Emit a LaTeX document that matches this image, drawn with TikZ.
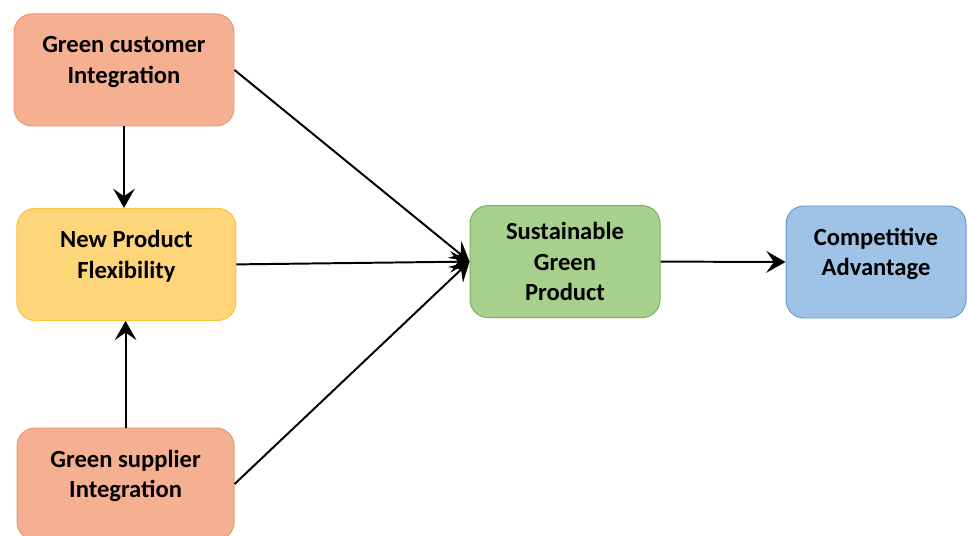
\documentclass[tikz,border=0pt]{standalone}
\usepackage{fontspec}
\setmainfont{Carlito}
\usetikzlibrary{arrows.meta, positioning}
\definecolor{salem}{RGB}{245,176,146}
\definecolor{salemtepi}{RGB}{232,150,112}
\definecolor{kuning}{RGB}{255,213,122}
\definecolor{kuningtepi}{RGB}{250,196,60}
\definecolor{hijau}{RGB}{168,208,141}
\definecolor{hijautepi}{RGB}{120,176,88}
\definecolor{biru}{RGB}{158,195,231}
\definecolor{birutepi}{RGB}{100,155,210}

\begin{document}
\begin{tikzpicture}[font=\bfseries\fontsize{17.5}{21.5}\selectfont,
        box/.style={draw, line width=0.7pt, rounded corners=0.45cm, minimum height=2.8cm,
                    align=center, text=black},
        twoline/.style={text depth=0.5cm},
        panah/.style={-{Stealth[length=4.8mm, width=5.4mm, inset=1.9mm]}, line width=1.4pt}
    ]
        \useasboundingbox (0,0) rectangle (24.2,13.4);

        \node[box, twoline, fill=salem,  draw=salemtepi,  minimum width=5.5cm]   (gci) at (3.1,11.65)  {Green customer\\Integration};
        \node[box, twoline, fill=kuning, draw=kuningtepi, minimum width=5.475cm] (npf) at (3.16,6.79)  {New Product\\Flexibility};
        \node[box, twoline, fill=salem,  draw=salemtepi,  minimum width=5.425cm] (gsi) at (3.14,1.3)   {Green supplier\\Integration};
        \node[box, fill=hijau, draw=hijautepi, minimum width=4.75cm]             (sgp) at (14.125,6.86) {Sustainable\\Green\\Product};
        \node[box, twoline, fill=biru, draw=birutepi, minimum width=4.5cm]       (ca)  at (21.9,6.85)  {Competitive\\Advantage};

        \draw[panah] (gci.south) -- (gci.south |- npf.north);
        \draw[panah] (gsi.north) -- (gsi.north |- npf.south);
        \draw[panah] (gci.east) -- (sgp.west);
        \draw[panah] (npf.east) -- (sgp.west);
        \draw[panah] (gsi.east) -- (sgp.west);
        \draw[panah] (sgp.east) -- (ca.west);
    \end{tikzpicture}
\end{document}
